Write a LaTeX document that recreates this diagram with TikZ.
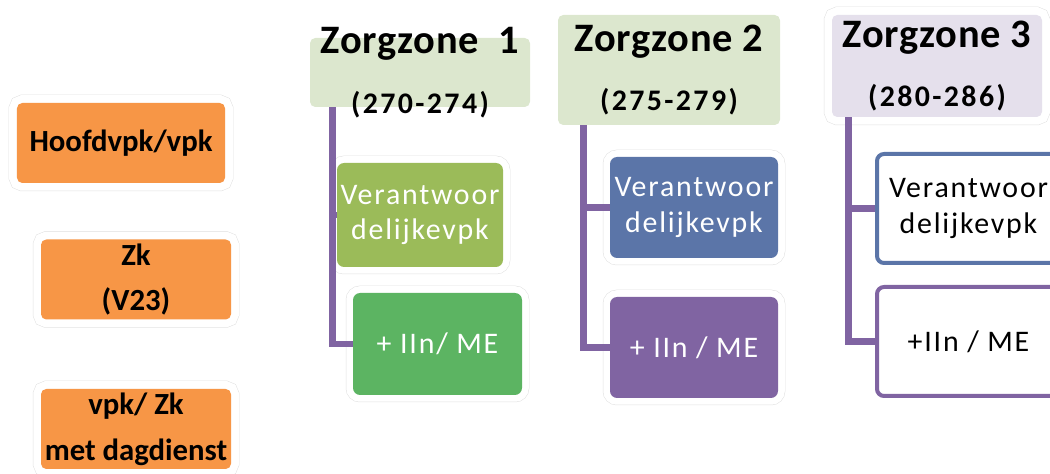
\documentclass[tikz,border=0pt]{standalone}
\usepackage{fontspec}
\setmainfont{Carlito}
\usepackage{tikz}
\usetikzlibrary{positioning}

\definecolor{oranje}{RGB}{247,150,70}
\definecolor{olijf}{RGB}{155,187,89}
\definecolor{groen}{RGB}{92,180,98}
\definecolor{blauw}{RGB}{91,117,168}
\definecolor{paars}{RGB}{128,100,162}
\definecolor{lichtgroen}{RGB}{220,231,206}
\definecolor{lila}{RGB}{229,224,236}

\newcommand{\zijfont}{\bfseries\fontsize{17.5}{26}\selectfont}
\newcommand{\kopfont}{\bfseries\fontsize{23}{34}\selectfont\addfontfeature{LetterSpace=2}}
\newcommand{\subfont}{\fontsize{17}{34}\selectfont\addfontfeature{LetterSpace=8}}
\newcommand{\taakfont}{\fontsize{17}{20}\selectfont\addfontfeature{LetterSpace=6}}

\tikzstyle{kader}=
[
	preaction={draw=black!12, line width=0.33cm}
	,preaction={draw=white, line width=0.31cm}
]
\tikzstyle{kaderklein}=
[
	preaction={draw=black!12, line width=0.29cm}
	,preaction={draw=white, line width=0.27cm}
]
\tikzstyle{zijvak}=
[
	rectangle
	,rounded corners=3pt
	,fill=oranje
	,minimum width=3.8cm
	,minimum height=1.6cm
	,inner sep=0pt
	,align=center
	,font=\zijfont
	,kader
]
\tikzstyle{kop}=
[
	rectangle
	,rounded corners=3pt
	,minimum width=4.4cm
	,inner sep=0pt
]
\tikzstyle{kopschrift}=
[
	align=center
	,font=\kopfont
]
\tikzstyle{taakbasis}=
[
	rectangle
	,rounded corners=4pt
	,minimum width=3.36cm
	,minimum height=2.04cm
	,inner sep=0pt
	,align=center
	,font=\taakfont
]
\tikzstyle{taak}=
[
	taakbasis
	,text=white
	,kaderklein
]
\tikzstyle{taakrand}=
[
	taakbasis
	,fill=white
	,text=black
	,line width=0.08cm
	,minimum width=3.66cm
	,minimum height=2.18cm
]
\tikzstyle{tak} = [draw=paars, line width=0.13cm]

\begin{document}
\begin{tikzpicture}
\useasboundingbox (0,0) rectangle (21,-9.48);

\node(L1)[zijvak, minimum width=4.16cm] at (2.42,-2.86) {Hoofdvpk/vpk};
\node(L2)[zijvak, below of=L1, xshift=0.3cm, node distance=2.73cm]{Zk\\(V23)};
\node(L3)[zijvak, below of=L2, node distance=2.99cm]{vpk/ Zk\\met dagdienst};

\node(H1)[kop, fill=lichtgroen, minimum height=1.38cm, label={[kopschrift]center:Zorgzone~~1\\{\subfont(270-274)}}] at (8.4,-1.45) {};
\node(H2)[kop, fill=lichtgroen, minimum width=4.44cm, minimum height=2.2cm, label={[kopschrift]center:Zorgzone 2\\{\subfont(275-279)}}] at (13.38,-1.40) {};
\node(H3)[kop, fill=lila, kader, minimum width=4.2cm, minimum height=2.04cm, label={[kopschrift]center:Zorgzone 3\\{\subfont(280-286)}}] at (18.74,-1.32) {};

\node(Z1a)[taak, fill=olijf, below of=H1, node distance=2.85cm, minimum width=3.32cm, minimum height=2.08cm]{Verantwoor\\delijkevpk};
\node(Z1b)[taak, fill=groen, below of=Z1a, xshift=0.35cm, node distance=2.58cm, minimum width=3.38cm]{+ IIn/ ME};
\node(Z2a)[taak, fill=blauw, below of=H2, xshift=0.5cm, node distance=2.75cm, minimum height=2.02cm]{Verantwoor\\delijkevpk};
\node(Z2b)[taak, fill=paars, below of=Z2a, node distance=2.8cm, minimum height=2.02cm]{+ IIn / ME};
\node(Z3a)[taakrand, draw=blauw, below of=H3, xshift=0.63cm, node distance=2.85cm]{Verantwoor\\delijkevpk};
\node(Z3b)[taakrand, draw=paars, below of=Z3a, node distance=2.66cm]{+IIn / ME};

\draw[tak]([xshift=0.46cm]H1.south west)|-(Z1a.west);
\draw[tak]([xshift=0.46cm]H1.south west)|-(Z1b.west);
\draw[tak]([xshift=0.52cm]H2.south west)|-(Z2a.west);
\draw[tak]([xshift=0.52cm]H2.south west)|-(Z2b.west);
\draw[tak]([xshift=0.34cm]H3.south west)|-(Z3a.west);
\draw[tak]([xshift=0.34cm]H3.south west)|-(Z3b.west);

\end{tikzpicture}
\end{document}
